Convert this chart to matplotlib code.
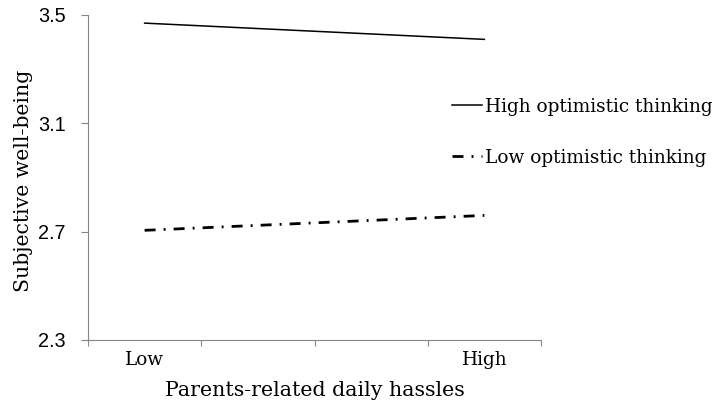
import matplotlib.pyplot as plt
from matplotlib.textpath import TextPath
from matplotlib.font_manager import FontProperties

plt.rcParams['lines.scale_dashes'] = False

# data
categories = ['Low', '', '', 'High']
x_pos = [1, 2, 3, 4]
high_x = [1, 4]
high_vals = [3.47, 3.41]
low_x = [1, 4]
low_vals = [2.705, 2.76]
yticks = [2.3, 2.7, 3.1, 3.5]

SERIF = 'DejaVu Serif'
SANS = 'Liberation Sans'
GRAY = '#868686'


def fit(text, family, px):
    """font size (pt) that makes text about px pixels wide at dpi 100"""
    w = TextPath((0, 0), text, size=1, prop=FontProperties(family=family)).get_extents().width
    return px * 0.72 / w


fig = plt.figure(figsize=(7.24, 4.07), dpi=100)
ax = fig.add_axes([88 / 724, 67 / 407, 453 / 724, 325 / 407])

ax.plot(high_x, high_vals, color='black', lw=1.1, label='High optimistic thinking')
ax.plot(low_x, low_vals, color='black', lw=2.0,
        linestyle=(0, (7.9, 5.8, 1.4, 5.8)), label='Low optimistic thinking')

ax.set_xlim(0.5, 4.5)
ax.set_ylim(2.3, 3.5)
ax.set_yticks(yticks)
ax.set_yticklabels([f'{v:.1f}' for v in yticks], family=SANS, fontsize=fit('3.5', SANS, 26))
ax.set_xticks([0.5, 1.5, 2.5, 3.5, 4.5])
ax.set_xticklabels([])
ax.set_xticks(x_pos, minor=True)
ax.set_xticklabels(categories, minor=True, family=SERIF, fontsize=fit('High', SERIF, 44))
ax.tick_params(axis='x', which='minor', length=0, pad=8)
ax.tick_params(axis='x', which='major', length=4, width=0.8, color=GRAY)
ax.tick_params(axis='y', length=5, width=0.8, color=GRAY, pad=11)

for s in ['top', 'right']:
    ax.spines[s].set_visible(False)
for s in ['left', 'bottom']:
    ax.spines[s].set_color(GRAY)
    ax.spines[s].set_linewidth(0.8)

ax.set_ylabel('Subjective well-being', family=SERIF,
              fontsize=fit('Subjective well-being', SERIF, 220))
ax.yaxis.set_label_coords(-0.121, 0.49)
ax.set_xlabel('Parents-related daily hassles', family=SERIF,
              fontsize=fit('Parents-related daily hassles', SERIF, 297))
ax.xaxis.set_label_coords(0.5, -0.125)

leg_fs = fit('High optimistic thinking', SERIF, 228)
fig.legend(loc='upper left', bbox_to_anchor=(452 / 724, 1 - 98 / 407), frameon=False,
           borderpad=0, borderaxespad=0,
           handlelength=1.6, handletextpad=0.2, labelspacing=1.75,
           prop={'family': SERIF, 'size': leg_fs})

fig.savefig('out.png', dpi=100, facecolor='white')
